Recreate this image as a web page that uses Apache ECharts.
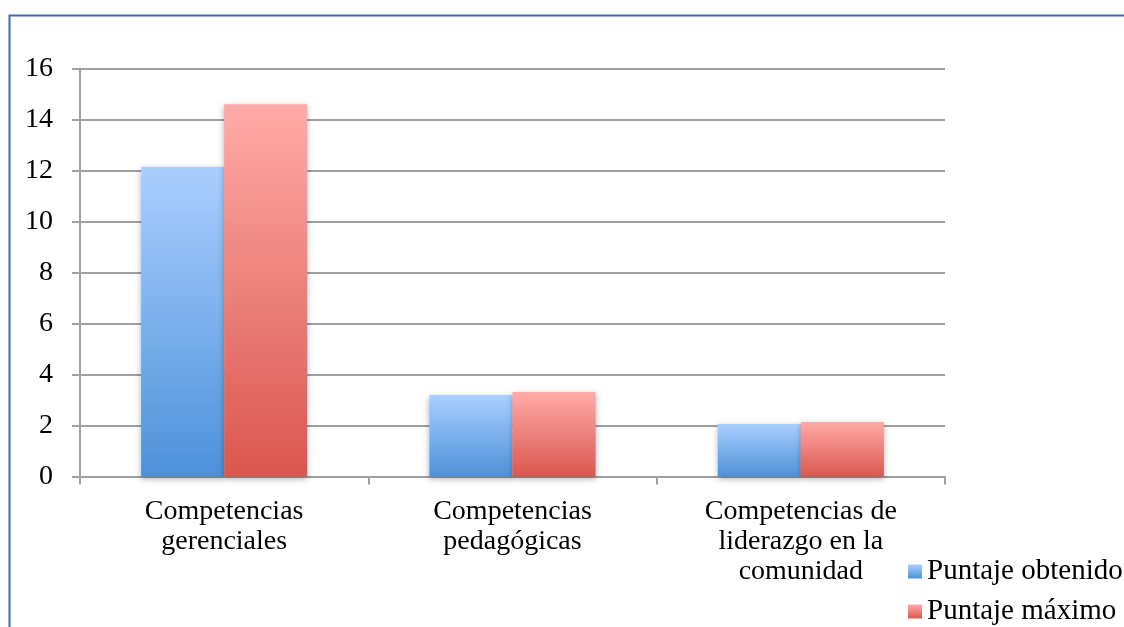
<!DOCTYPE html>
<html><head><meta charset="utf-8">
<script src="https://cdn.jsdelivr.net/npm/echarts@6/dist/echarts.min.js"></script>
<style>html,body{margin:0;padding:0;background:#fff}#c{width:1124px;height:627px}</style>
</head><body><div id="c"></div>
<script>
const categories = ['Competencias\ngerenciales', 'Competencias\npedagógicas', 'Competencias de\nliderazgo en la\ncomunidad'];
const obtenido = [12.15, 3.2, 2.06];
const maximo = [14.6, 3.31, 2.14];
const seriesNames = ['Puntaje obtenido', 'Puntaje máximo'];
const FONT = 'Liberation Serif';
const chart = echarts.init(document.getElementById('c'));
const grad = (a, b) => new echarts.graphic.LinearGradient(0, 0, 0, 1, [{offset: 0, color: a}, {offset: 1, color: b}]);
const legendBase = {
  orient: 'vertical', left: 908, itemWidth: 14, itemHeight: 14, padding: 0, itemGap: 6,
  textStyle: {fontFamily: FONT, fontSize: 29, color: '#000'}, icon: 'rect'
};
chart.setOption({
  animation: false,
  graphic: [{type: 'rect', shape: {x: 9.5, y: 15.5, width: 1300, height: 800}, style: {fill: 'none', stroke: '#3d6dab', lineWidth: 2}, z: 100}],
  grid: {left: 80, top: 68.5, right: 179, bottom: 150.5},
  legend: [
    Object.assign({}, legendBase, {top: 557, data: [seriesNames[0]]}),
    Object.assign({}, legendBase, {top: 597, data: [seriesNames[1]]})
  ],
  xAxis: {
    type: 'category', data: categories,
    axisLine: {lineStyle: {color: '#a0a0a0', width: 2}},
    axisTick: {show: true, length: 8, lineStyle: {color: '#a0a0a0', width: 2}},
    axisLabel: {fontFamily: FONT, fontSize: 28, color: '#000', lineHeight: 30, margin: 20, interval: 0}
  },
  yAxis: {
    type: 'value', min: 0, max: 16, interval: 2,
    axisLine: {show: true, lineStyle: {color: '#a0a0a0', width: 2}},
    axisTick: {show: true, length: 8, lineStyle: {color: '#a0a0a0', width: 2}},
    splitLine: {lineStyle: {color: '#a0a0a0', width: 2}},
    axisLabel: {fontFamily: FONT, fontSize: 28, color: '#000', margin: 27}
  },
  series: [
    {name: seriesNames[0], type: 'bar', data: obtenido, barWidth: '28.8%', barGap: '0%',
     itemStyle: {color: grad('#aacfff', '#4d91d9'), shadowBlur: 6, shadowColor: 'rgba(0,0,0,0.3)', shadowOffsetY: 2}},
    {name: seriesNames[1], type: 'bar', data: maximo, barWidth: '28.8%', barGap: '0%',
     itemStyle: {color: grad('#ffaaa8', '#da574e'), shadowBlur: 6, shadowColor: 'rgba(0,0,0,0.3)', shadowOffsetY: 2}}
  ]
});
</script></body></html>
